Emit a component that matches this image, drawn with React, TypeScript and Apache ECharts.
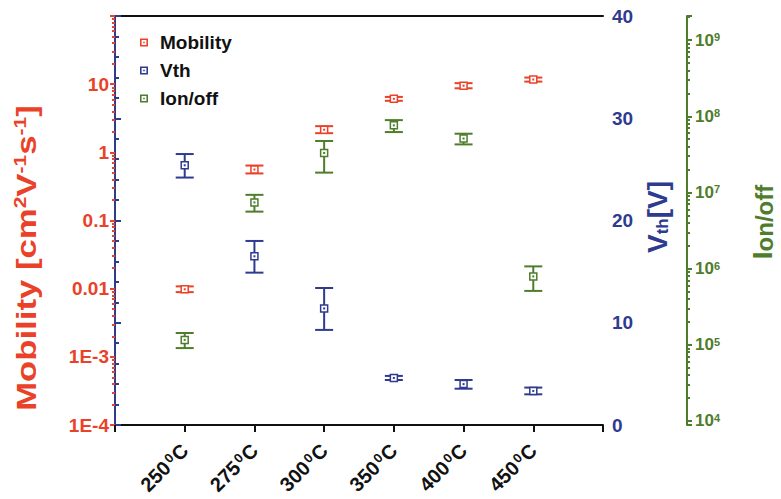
import React, { useEffect, useRef } from 'react';
import * as echarts from 'echarts';

const temperatures = ['250', '275', '300', '350', '400', '450'];

const mobility = [0.0098, 0.56, 2.15, 6.1, 9.5, 11.7];
const mobilityLow = [0.0089, 0.49, 1.91, 5.7, 8.7, 10.9];
const mobilityHigh = [0.0108, 0.64, 2.42, 6.5, 10.35, 12.5];

const vth = [25.4, 16.5, 11.4, 4.6, 4.0, 3.33];
const vthLow = [24.2, 14.9, 9.3, 4.4, 3.55, 3.0];
const vthHigh = [26.5, 18.0, 13.4, 4.8, 4.4, 3.66];

const onOff = [1.16e5, 7.4e6, 3.3e7, 7.6e7, 5.1e7, 7.9e5];
const onOffLow = [9.06e4, 5.6e6, 1.82e7, 6.2e7, 4.27e7, 5.1e5];
const onOffHigh = [1.43e5, 9.3e6, 4.73e7, 8.9e7, 5.9e7, 1.07e6];

const mobilityTickLabels = ['1E-4', '1E-3', '0.01', '0.1', '1', '10', ''];
const mobilityDecades = [-4, -3, -2, -1, 0, 1];
const onOffDecades = [3, 4, 5, 6, 7, 8, 9];
const minorMultipliers = [2, 3, 4, 5, 6, 7, 8, 9];
const vthTicks = [0, 10, 20, 30, 40];

const RED = '#ea4228';
const BLUE = '#2e3b8f';
const GREEN = '#4e7d2b';
const FONT = 'Arial, "Liberation Sans", Helvetica, sans-serif';
const GREEN_OFFSET = 84;

const ICON = 'path://M0,0H10V10H0Z M2,2V8H8V2Z M4,4H6V6H4Z';

const MOB_MIN = 1e-4;
const MOB_MAX = 100;
const ONOFF_MIN = 8.86e3;
const ONOFF_MAX = 2.07e9;

function build(values: number[], low: number[], high: number[]) {
  return values.map((v, i) => [i + 1, v, low[i], high[i]]);
}

function minorValues(decades: number[], min: number, max: number) {
  const out: number[] = [];
  decades.forEach((e) => {
    minorMultipliers.forEach((m) => {
      const v = m * Math.pow(10, e);
      if (v > min && v < max) out.push(v);
    });
  });
  return out;
}

function makeRender(color: string) {
  return (params: any, api: any) => {
    const x = api.value(0);
    const c = api.coord([x, api.value(1)]);
    const lo = api.coord([x, api.value(2)]);
    const hi = api.coord([x, api.value(3)]);
    const half = 9;
    const box = 3.5;
    const ls = { stroke: color, lineWidth: 2 };
    return {
      type: 'group',
      children: [
        { type: 'line', shape: { x1: c[0], y1: hi[1], x2: c[0], y2: lo[1] }, style: ls },
        { type: 'line', shape: { x1: c[0] - half, y1: hi[1], x2: c[0] + half, y2: hi[1] }, style: ls },
        { type: 'line', shape: { x1: c[0] - half, y1: lo[1], x2: c[0] + half, y2: lo[1] }, style: ls },
        {
          type: 'rect',
          shape: { x: c[0] - box, y: c[1] - box, width: box * 2, height: box * 2 },
          style: { fill: '#fff', stroke: color, lineWidth: 1.5 },
        },
        { type: 'rect', shape: { x: c[0] - 1, y: c[1] - 1, width: 2, height: 2 }, style: { fill: color } },
      ],
    };
  };
}

export default function App() {
  const ref = useRef<HTMLDivElement>(null);

  useEffect(() => {
    if (!ref.current) return;
    const chart = echarts.init(ref.current, undefined, { renderer: 'svg' });

    const minorAxis = (min: number, max: number, color: string, position: string, offset: number, ticks: number[]) => ({
      type: 'log',
      logBase: 10,
      min,
      max,
      position,
      offset,
      axisLine: { show: false },
      axisTick: {
        show: true,
        inside: false,
        length: 3,
        customValues: ticks,
        lineStyle: { color, width: 2 },
      },
      minorTick: { show: false },
      splitLine: { show: false },
      axisLabel: { show: false },
    });

    const option: any = {
      animation: false,
      backgroundColor: '#fff',
      color: [RED, BLUE, GREEN],
      textStyle: { fontFamily: FONT },
      grid: { left: 115, right: 178, top: 16, bottom: 74, containLabel: false },
      legend: {
        orient: 'vertical',
        left: 135,
        top: 28,
        itemWidth: 22,
        itemHeight: 8,
        itemGap: 9,
        symbolKeepAspect: true,
        selectedMode: false,
        textStyle: { fontFamily: FONT, fontSize: 19, fontWeight: 'bold', color: '#111', lineHeight: 19 },
        data: [
          { name: 'Mobility', icon: ICON },
          { name: 'Vth', icon: ICON },
          { name: 'Ion/off', icon: ICON },
        ],
      },
      xAxis: [
        {
          type: 'value',
          min: 0,
          max: 7,
          interval: 1,
          position: 'bottom',
          axisLine: { show: true, lineStyle: { color: '#111', width: 2 } },
          axisTick: { show: true, inside: false, length: 7, lineStyle: { color: '#111', width: 2 } },
          splitLine: { show: false },
          axisLabel: {
            rotate: 45,
            margin: 22,
            formatter: (v: number) => {
              const t = temperatures[Math.round(v) - 1];
              return t ? `{n|${t}}{s|0}{c|C}` : '';
            },
            rich: {
              n: { fontFamily: FONT, fontSize: 20, fontWeight: 'bold', color: '#111' },
              s: {
                fontFamily: FONT,
                fontSize: 13,
                fontWeight: 'bold',
                color: '#111',
                verticalAlign: 'top',
                padding: [0, 1, 0, 2],
              },
              c: { fontFamily: FONT, fontSize: 20, fontWeight: 'bold', color: '#111' },
            },
          },
        },
        {
          type: 'value',
          min: 0,
          max: 7,
          position: 'top',
          axisLine: { show: true, lineStyle: { color: '#111', width: 2 } },
          axisTick: { show: false },
          axisLabel: { show: false },
          splitLine: { show: false },
        },
      ],
      yAxis: [
        {
          type: 'log',
          logBase: 10,
          min: MOB_MIN,
          max: MOB_MAX,
          position: 'left',
          axisLine: { show: true, lineStyle: { color: RED, width: 2 } },
          axisTick: { show: true, inside: false, length: 5, lineStyle: { color: RED, width: 2 } },
          minorTick: { show: false },
          splitLine: { show: false },
          axisLabel: {
            color: RED,
            fontSize: 19,
            fontWeight: 'bold',
            fontFamily: FONT,
            margin: 6,
            formatter: (v: number) => {
              const e = Math.round(Math.log10(v));
              return mobilityTickLabels[e + 4] ?? '';
            },
          },
        },
        {
          type: 'value',
          min: vthTicks[0],
          max: vthTicks[vthTicks.length - 1],
          interval: 10,
          position: 'right',
          axisLine: { show: true, lineStyle: { color: BLUE, width: 2 } },
          axisTick: { show: true, inside: false, length: 6, lineStyle: { color: BLUE, width: 2 } },
          minorTick: { show: true, splitNumber: 5, length: 4, lineStyle: { color: BLUE, width: 2 } },
          splitLine: { show: false },
          axisLabel: { color: BLUE, fontSize: 19, fontWeight: 'bold', fontFamily: FONT, margin: 9 },
        },
        {
          type: 'log',
          logBase: 10,
          min: ONOFF_MIN,
          max: ONOFF_MAX,
          position: 'right',
          offset: GREEN_OFFSET,
          axisLine: { show: true, lineStyle: { color: GREEN, width: 2 } },
          axisTick: { show: true, inside: false, length: 5, lineStyle: { color: GREEN, width: 2 } },
          minorTick: { show: false },
          splitLine: { show: false },
          axisLabel: {
            margin: 8,
            formatter: (v: number) => {
              const l = Math.log10(v);
              const e = Math.round(l);
              if (Math.abs(l - e) > 1e-6) return '';
              return `{b|10}{s|${e}}`;
            },
            rich: {
              b: { fontFamily: FONT, fontSize: 17, fontWeight: 'bold', color: GREEN },
              s: { fontFamily: FONT, fontSize: 11, fontWeight: 'bold', color: GREEN, verticalAlign: 'top' },
            },
          },
        },
        minorAxis(MOB_MIN, MOB_MAX, RED, 'left', 0, minorValues(mobilityDecades, MOB_MIN, MOB_MAX)),
        minorAxis(ONOFF_MIN, ONOFF_MAX, GREEN, 'right', GREEN_OFFSET, minorValues(onOffDecades, ONOFF_MIN, ONOFF_MAX)),
      ],
      series: [
        {
          name: 'Mobility',
          type: 'custom',
          xAxisIndex: 0,
          yAxisIndex: 0,
          itemStyle: { color: RED },
          renderItem: makeRender(RED),
          encode: { x: 0, y: 1 },
          data: build(mobility, mobilityLow, mobilityHigh),
          z: 5,
        },
        {
          name: 'Vth',
          type: 'custom',
          xAxisIndex: 0,
          yAxisIndex: 1,
          itemStyle: { color: BLUE },
          renderItem: makeRender(BLUE),
          encode: { x: 0, y: 1 },
          data: build(vth, vthLow, vthHigh),
          z: 5,
        },
        {
          name: 'Ion/off',
          type: 'custom',
          xAxisIndex: 0,
          yAxisIndex: 2,
          itemStyle: { color: GREEN },
          renderItem: makeRender(GREEN),
          encode: { x: 0, y: 1 },
          data: build(onOff, onOffLow, onOffHigh),
          z: 5,
        },
      ],
      graphic: [
        {
          type: 'text',
          x: 26,
          y: 258,
          rotation: Math.PI / 2,
          scaleX: 1.24,
          style: {
            text: 'Mobility [cm{sup|2}V{sup|-1}s{sup|-1}]',
            fill: RED,
            font: `bold 28px ${FONT}`,
            align: 'center',
            verticalAlign: 'middle',
            rich: {
              sup: { fontFamily: FONT, fontSize: 17, fontWeight: 'bold', fill: RED, verticalAlign: 'top' },
            },
          },
        },
        {
          type: 'text',
          x: 657,
          y: 217,
          rotation: Math.PI / 2,
          style: {
            text: 'V{sub|th}[V]',
            fill: BLUE,
            font: `bold 28px ${FONT}`,
            align: 'center',
            verticalAlign: 'middle',
            rich: {
              sub: { fontFamily: FONT, fontSize: 17, fontWeight: 'bold', fill: BLUE, verticalAlign: 'bottom' },
            },
          },
        },
        {
          type: 'text',
          x: 762,
          y: 222,
          rotation: Math.PI / 2,
          style: {
            text: 'I{sub|on/off}',
            fill: GREEN,
            font: `bold 28px ${FONT}`,
            align: 'center',
            verticalAlign: 'middle',
            rich: {
              sub: { fontFamily: FONT, fontSize: 24, fontWeight: 'bold', fill: GREEN, verticalAlign: 'bottom' },
            },
          },
        },
      ],
    };

    chart.setOption(option);
    return () => chart.dispose();
  }, []);

  return (
    <div
      ref={ref}
      style={{ position: 'fixed', left: 0, top: 0, width: 781, height: 499, background: '#fff' }}
    />
  );
}
